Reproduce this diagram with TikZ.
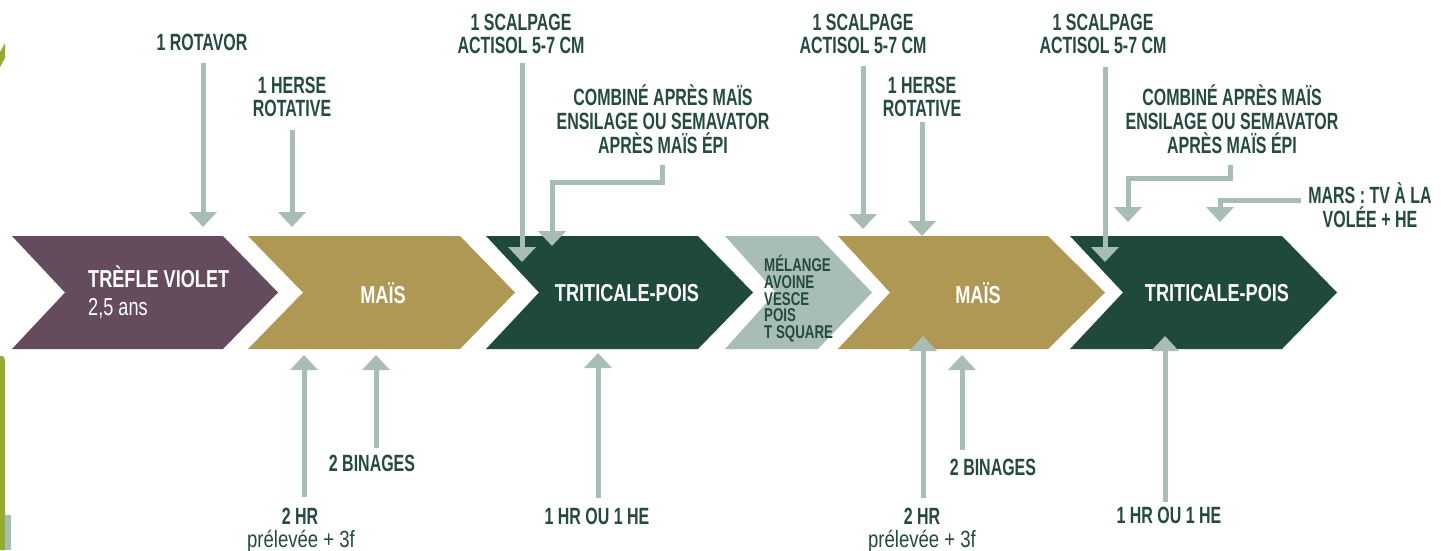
\documentclass[tikz,border=0pt]{standalone}
\usepackage{fontspec}
\usetikzlibrary{arrows.meta}
\newfontfamily\labfont{Liberation Sans}[FakeStretch=0.68]
\newfontfamily\regfont{Liberation Sans}[FakeStretch=0.79]
\newfontfamily\chevfont{Liberation Sans}[FakeStretch=0.74]
\newfontfamily\mixfont{Liberation Sans}[FakeStretch=0.72]
\definecolor{purp}{HTML}{654B5E}
\definecolor{gold}{HTML}{AE9853}
\definecolor{dgreen}{HTML}{1F4A3A}
\definecolor{lgray}{HTML}{A9BDB7}
\definecolor{txtgreen}{HTML}{244B3C}
\definecolor{olivec}{HTML}{95AA35}
\tikzset{
  lab/.style={text=txtgreen, align=center, inner sep=0pt,
    font=\labfont\bfseries\fontsize{23.5}{23.8}\selectfont},
  labreg/.style={text=txtgreen, align=center, inner sep=0pt,
    font=\regfont\fontsize{23.5}{23.8}\selectfont},
  chevtxt/.style={text=white, inner sep=0pt,
    font=\chevfont\bfseries\fontsize{24.5}{28}\selectfont},
  mixtxt/.style={text=txtgreen, inner sep=0pt, align=left,
    font=\mixfont\bfseries\fontsize{18.5}{16.7}\selectfont},
  arr/.style={draw=lgray, line width=5pt, miter limit=10,
    -{Triangle[width=27pt,length=15pt]}},
}
\begin{document}
\begin{tikzpicture}[x=1pt,y=-1pt]
\useasboundingbox (0,0) rectangle (1441,550);
\fill[white] (0,0) rectangle (1441,550);
% edge fragments
\fill[olivec] (0,52) -- (5,43) -- (5,58) -- (0,67) -- cycle;
\fill[olivec] (0,550) -- (0,356) -- (2,356) to[out=0,in=90] (5,362) -- (5,550) -- cycle;
\fill[lgray] (5,515) rectangle (11,550);
% chevrons
\fill[purp]   (12,236)   -- (223,236)  -- (278,292.5)  -- (223,349)  -- (12,349)   -- (65,292.5)  -- cycle;
\fill[gold]   (248,236)  -- (460,236)  -- (515,292.5)  -- (460,349)  -- (248,349)  -- (303,292.5) -- cycle;
\fill[dgreen] (486,236)  -- (698,236)  -- (753,292.5)  -- (698,349)  -- (486,349)  -- (539,292.5) -- cycle;
\fill[lgray]  (725,236)  -- (818,236)  -- (872,292.5)  -- (818,349)  -- (725,349)  -- (776,292.5) -- cycle;
\fill[gold]   (838,236)  -- (1048,236) -- (1105,292.5) -- (1048,349) -- (838,349)  -- (890,292.5) -- cycle;
\fill[dgreen] (1070,236) -- (1282,236) -- (1337,292.5) -- (1282,349) -- (1070,349) -- (1123,292.5) -- cycle;
% chevron texts
\node[chevtxt, anchor=west, align=left] (trefle) at (88,292) {TRÈFLE VIOLET\\{\mdseries 2,5 ans}};
\node[chevtxt] (mais1) at (383,293) {MAÏS};
\node[chevtxt] (trit1) at (627,293) {TRITICALE-POIS};
\node[mixtxt, anchor=north west] (melange) at (764,255) {MÉLANGE\\AVOINE\\VESCE\\POIS\\T SQUARE};
\node[chevtxt] (mais2) at (978,293) {MAÏS};
\node[chevtxt] (trit2) at (1217,293) {TRITICALE-POIS};
% top labels
\node[lab] (rot) at (202,42) {1 ROTAVOR};
\node[lab] (her1) at (292,97) {1 HERSE\\ROTATIVE};
\node[lab] (sc1) at (521,34) {1 SCALPAGE\\ACTISOL 5-7 CM};
\node[lab] (com1) at (663,119) {COMBINÉ APRÈS MAÏS\\ENSILAGE OU SEMAVATOR\\APRÈS MAÏS ÉPI};
\node[lab] (sc2) at (863,34) {1 SCALPAGE\\ACTISOL 5-7 CM};
\node[lab] (her2) at (922,97) {1 HERSE\\ROTATIVE};
\node[lab] (sc3) at (1103,34) {1 SCALPAGE\\ACTISOL 5-7 CM};
\node[lab] (com2) at (1232,119) {COMBINÉ APRÈS MAÏS\\ENSILAGE OU SEMAVATOR\\APRÈS MAÏS ÉPI};
\node[lab] (mars) at (1370,205) {MARS : TV À LA\\VOLÉE + HE};
% bottom labels
\node[lab] (hr1) at (300,516) {2 HR};
\node[labreg] (prel1) at (301,541) {prélevée + 3f};
\node[lab] (bin1) at (372,463) {2 BINAGES};
\node[lab] (he1) at (597,516) {1 HR OU 1 HE};
\node[lab] (hr2) at (922,516) {2 HR};
\node[labreg] (prel2) at (922,541) {prélevée + 3f};
\node[lab] (bin2) at (993,467) {2 BINAGES};
\node[lab] (he2) at (1169,515) {1 HR OU 1 HE};
% connector end points
\coordinate (rotS) at (203,63);   \coordinate (rotE) at (203,227);
\coordinate (her1S) at (292,130); \coordinate (her1E) at (292,227);
\coordinate (sc1S) at (522,63);   \coordinate (sc1E) at (522,262);
\coordinate (com1S) at (662,165); \coordinate (com1A) at (662,182); \coordinate (com1B) at (552,182); \coordinate (com1E) at (552,246);
\coordinate (sc2S) at (863,66);   \coordinate (sc2E) at (863,229);
\coordinate (her2S) at (922,122); \coordinate (her2E) at (922,236);
\coordinate (sc3S) at (1105,67);  \coordinate (sc3E) at (1105,262);
\coordinate (com2S) at (1230,165); \coordinate (com2A) at (1230,178); \coordinate (com2B) at (1128,178); \coordinate (com2E) at (1128,222);
\coordinate (marsS) at (1301,200); \coordinate (marsA) at (1220,200); \coordinate (marsE) at (1220,222);
\coordinate (hr1S) at (304,497);  \coordinate (hr1E) at (304,355);
\coordinate (bin1S) at (376,448); \coordinate (bin1E) at (376,355);
\coordinate (he1S) at (598,498);  \coordinate (he1E) at (598,353);
\coordinate (hr2S) at (923,498);  \coordinate (hr2E) at (923,336);
\coordinate (bin2S) at (962,450); \coordinate (bin2E) at (962,355);
\coordinate (he2S) at (1165,502); \coordinate (he2E) at (1165,336);
% connectors
\draw[arr] (rotS) -- (rotE);
\draw[arr] (her1S) -- (her1E);
\draw[arr] (sc1S) -- (sc1E);
\draw[arr] (com1S) -- (com1A) -- (com1B) -- (com1E);
\draw[arr] (sc2S) -- (sc2E);
\draw[arr] (her2S) -- (her2E);
\draw[arr] (sc3S) -- (sc3E);
\draw[arr] (com2S) -- (com2A) -- (com2B) -- (com2E);
\draw[arr] (marsS) -- (marsA) -- (marsE);
\draw[arr] (hr1S) -- (hr1E);
\draw[arr] (bin1S) -- (bin1E);
\draw[arr] (he1S) -- (he1E);
\draw[arr] (hr2S) -- (hr2E);
\draw[arr] (bin2S) -- (bin2E);
\draw[arr] (he2S) -- (he2E);
\end{tikzpicture}
\end{document}
